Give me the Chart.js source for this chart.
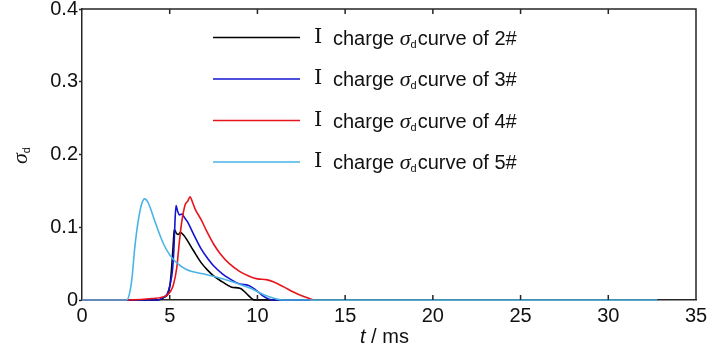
<!DOCTYPE html>
<html>
<head>
<meta charset="utf-8">
<title>sigma_d curves</title>
<script src="https://cdn.jsdelivr.net/npm/chart.js@4.4.1/dist/chart.umd.min.js"></script>
<style>
  html, body { margin: 0; padding: 0; background: #fff; }
  #wrap { position: relative; width: 728px; height: 347px; }
</style>
</head>
<body>
<div id="wrap"><canvas id="chart"></canvas></div>
<script>
'use strict';

/* ── data (t in ms, sigma_d) ── */
const X_TICKS = [0, 5, 10, 15, 20, 25, 30, 35];
const Y_TICKS = [0, 0.1, 0.2, 0.3, 0.4];

const SERIES_NAMES = ['2#', '3#', '4#', '5#'];

const T_2 = [0, 4.3, 4.7, 4.95, 5.06, 5.15, 5.21, 5.26, 5.4, 5.5, 5.6, 5.8, 6.0, 6.35, 6.8, 7.2, 7.5, 8.0, 8.5, 9.0, 9.2, 9.45, 9.85, 13];
const V_2 = [0, 0, 0.004, 0.012, 0.03, 0.058, 0.08, 0.097, 0.091, 0.09, 0.093, 0.089, 0.082, 0.068, 0.051, 0.040, 0.033, 0.025, 0.018, 0.016, 0.013, 0.007, 0, 0];

const T_3 = [0, 4.3, 4.6, 4.85, 5.02, 5.17, 5.25, 5.3, 5.36, 5.45, 5.55, 5.7, 5.85, 6.0, 6.35, 6.8, 7.2, 7.5, 8.0, 8.5, 9.0, 9.5, 9.9, 10.35, 10.9, 13];
const V_3 = [0, 0, 0.003, 0.008, 0.021, 0.044, 0.076, 0.108, 0.130, 0.122, 0.117, 0.118, 0.113, 0.108, 0.091, 0.070, 0.056, 0.047, 0.036, 0.028, 0.022, 0.020, 0.014, 0.005, 0, 0];

const T_4 = [0, 2.6, 4.0, 4.8, 5.05, 5.21, 5.4, 5.55, 5.69, 5.88, 6.03, 6.16, 6.26, 6.45, 6.8, 7.1, 7.5, 7.9, 8.4, 9.0, 9.5, 10.0, 10.5, 10.9, 11.5, 12.05, 12.6, 13.2];
const V_4 = [0, 0, 0.002, 0.006, 0.012, 0.021, 0.044, 0.080, 0.108, 0.131, 0.136, 0.142, 0.137, 0.125, 0.110, 0.095, 0.077, 0.063, 0.050, 0.039, 0.033, 0.029, 0.028, 0.025, 0.018, 0.011, 0.005, 0];

const T_5 = [0, 2.55, 2.7, 2.85, 3.0, 3.2, 3.4, 3.57, 3.75, 3.9, 4.1, 4.35, 4.65, 5.0, 5.4, 5.95, 6.9, 7.9, 8.7, 9.6, 10.4, 11.0, 11.4, 32.8];
const V_5 = [0, 0, 0.008, 0.03, 0.07, 0.108, 0.132, 0.139, 0.135, 0.126, 0.112, 0.095, 0.077, 0.062, 0.051, 0.042, 0.036, 0.030, 0.024, 0.016, 0.007, 0.002, 0, 0];

const COLORS = ['#000000', '#1414d2', '#e8141b', '#4ab4e6'];

/* ── helpers ── */
const toPoints = (ts, vs) => ts.map((t, i) => ({ x: t, y: vs[i] }));

const SANS = "'Liberation Sans', Arial, sans-serif";
const SERIF = "'Liberation Serif', 'DejaVu Serif', 'Times New Roman', serif";
const AXIS_COLOR = '#262626';

// draws "σ" + subscript "d" starting at x, baseline y; returns end x
function drawSigmaD(ctx, x, y) {
  ctx.font = 'italic 22px ' + SERIF;
  ctx.fillText('σ', x, y);
  x += ctx.measureText('σ').width;
  ctx.font = '11px ' + SANS;
  ctx.fillText('d', x, y + 3);
  return x + ctx.measureText('d').width;
}

/* ── frame: top/right border + inward x ticks ── */
const framePlugin = {
  id: 'frame',
  afterDraw(chart) {
    const { ctx, chartArea } = chart;
    const { left, top, right, bottom } = chartArea;
    const xs = chart.scales.x;
    ctx.save();
    ctx.strokeStyle = AXIS_COLOR;
    ctx.lineWidth = 1.5;
    ctx.beginPath();
    ctx.moveTo(left, top);
    ctx.lineTo(right, top);
    ctx.lineTo(right, bottom);
    X_TICKS.forEach(v => {
      const px = xs.getPixelForValue(v);
      if (v === 0 || v === 35) return;
      ctx.moveTo(px, bottom);
      ctx.lineTo(px, bottom - 5);
      ctx.moveTo(px, top);
      ctx.lineTo(px, top + 5);
    });
    ctx.stroke();
    ctx.restore();
  },
};

/* ── legend with subscript ── */
const legendPlugin = {
  id: 'sigmaLegend',
  afterDraw(chart) {
    const { ctx } = chart;
    ctx.save();
    ctx.textBaseline = 'alphabetic';
    SERIES_NAMES.forEach((name, i) => {
      const y = 37.5 + i * 41.5;
      ctx.strokeStyle = COLORS[i];
      ctx.lineWidth = 1.6;
      ctx.beginPath();
      ctx.moveTo(213, y);
      ctx.lineTo(300, y);
      ctx.stroke();

      ctx.fillStyle = '#111';
      let x = 314;
      ctx.font = '21px ' + SERIF;
      ctx.fillText('Ⅰ', x, y + 5);
      x = 333;
      ctx.font = '20px ' + SANS;
      ctx.fillText('charge', x, y + 7);
      x += ctx.measureText('charge ').width;
      x = drawSigmaD(ctx, x, y + 7);
      ctx.font = '20px ' + SANS;
      ctx.fillText('curve of ' + name, x + 1, y + 7);
    });
    ctx.restore();
  },
};

/* ── axis titles ── */
const titlesPlugin = {
  id: 'axisTitles',
  afterDraw(chart) {
    const { ctx } = chart;
    ctx.save();
    ctx.fillStyle = '#111';
    ctx.textBaseline = 'alphabetic';

    // y title, rotated
    ctx.translate(27, 164);
    ctx.rotate(-Math.PI / 2);
    drawSigmaD(ctx, 0, 0);
    ctx.setTransform(1, 0, 0, 1, 0, 0);

    // x title: "t / ms"
    ctx.font = 'italic 20px ' + SANS;
    let x = 360;
    ctx.fillText('t', x, 343);
    x += ctx.measureText('t').width;
    ctx.font = '20px ' + SANS;
    ctx.fillText(' / ms', x, 343);
    ctx.restore();
  },
};

/* ── chart ── */
Chart.defaults.font.family = SANS;
Chart.defaults.font.size = 20;
Chart.defaults.color = '#111';

const points = [toPoints(T_2, V_2), toPoints(T_3, V_3), toPoints(T_4, V_4), toPoints(T_5, V_5)];
const drawOrder = [3, 2, 1, 0];

new Chart(document.getElementById('chart').getContext('2d'), {
  type: 'line',
  data: {
    datasets: points.map((pts, i) => ({
      label: 'Ⅰ charge σd curve of ' + SERIES_NAMES[i],
      data: pts,
      borderColor: COLORS[i],
      borderWidth: 1.6,
      pointRadius: 0,
      fill: false,
      cubicInterpolationMode: 'monotone',
      clip: 4,
      order: drawOrder[i],
    })),
  },
  options: {
    responsive: true,
    maintainAspectRatio: false,
    animation: false,
    devicePixelRatio: 1,
    layout: { padding: { top: 9, right: 32, left: 0, bottom: 0 } },
    plugins: {
      legend: { display: false },
      tooltip: { enabled: false },
    },
    scales: {
      x: {
        type: 'linear',
        min: 0,
        max: 35,
        afterBuildTicks: s => { s.ticks = X_TICKS.map(v => ({ value: v })); },
        ticks: { padding: 4, maxRotation: 0, font: { size: 20 } },
        grid: { display: true, drawOnChartArea: false, drawTicks: false },
        border: { display: true, color: AXIS_COLOR, width: 1.5 },
        afterFit: s => { s.height = 47; s.paddingLeft = 0; s.paddingRight = 0; },
      },
      y: {
        type: 'linear',
        min: 0,
        max: 0.4,
        afterBuildTicks: s => { s.ticks = Y_TICKS.map(v => ({ value: v })); },
        ticks: { padding: 1, font: { size: 20 } },
        grid: { display: true, drawOnChartArea: false, drawTicks: true, tickLength: 3, color: AXIS_COLOR, tickWidth: 1.5 },
        border: { display: true, color: AXIS_COLOR, width: 1.5 },
        afterFit: s => { s.width = 82; s.paddingTop = 0; s.paddingBottom = 0; },
      },
    },
  },
  plugins: [framePlugin, titlesPlugin, legendPlugin],
});
</script>
</body>
</html>
